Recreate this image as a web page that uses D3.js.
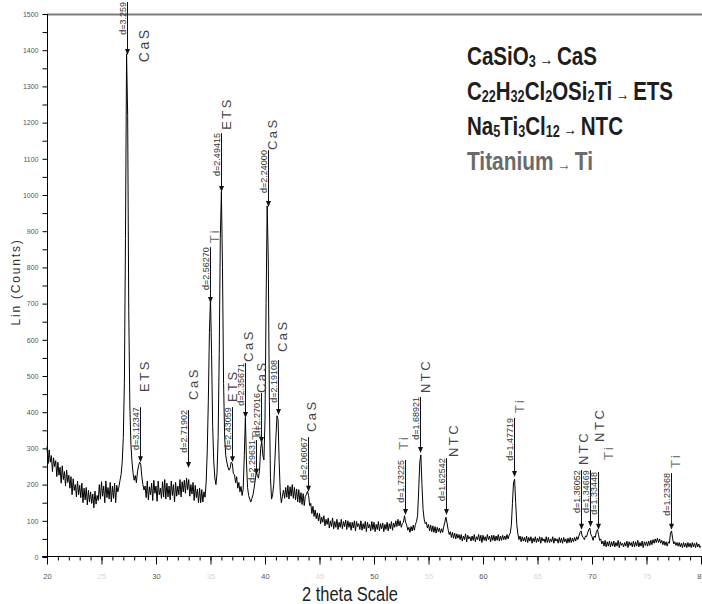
<!DOCTYPE html>
<html>
<head>
<meta charset="utf-8">
<script src="https://cdn.jsdelivr.net/npm/d3@7"></script>
<style>
body { margin: 0; background: #fff; }
svg { display: block; }
</style>
</head>
<body>
<svg id="chart"></svg>
<script>
const width = 702;
const height = 604;

// measured pattern, 2 theta from 20 to 80 in 0.1 steps
const startAngle = 20;
const stepAngle = 0.1;
const counts = [
  305, 258, 296, 262, 280, 236, 274, 250, 266, 222,
  262, 226, 248, 204, 252, 214, 236, 196, 240, 206,
  226, 190, 222, 172, 216, 184, 200, 166, 210, 172,
  198, 164, 204, 150, 190, 158, 192, 144, 184, 152,
  180, 148, 174, 136, 182, 146, 170, 156, 200, 160,
  208, 168, 196, 150, 210, 164, 192, 160, 206, 152,
  196, 162, 204, 150, 198, 180, 194, 212, 228, 262,
  330, 480, 880, 1390, 1220, 680, 420, 310, 262, 230,
  212, 225, 205, 235, 252, 262, 256, 222, 200, 185,
  196, 164, 210, 158, 194, 172, 204, 156, 212, 176,
  196, 154, 210, 172, 190, 162, 208, 166, 214, 160,
  204, 166, 196, 158, 210, 170, 200, 152, 206, 168,
  196, 172, 214, 166, 208, 180, 212, 176, 218, 186,
  214, 168, 200, 174, 206, 156, 198, 164, 188, 150,
  190, 150, 186, 152, 180, 165, 205, 290, 430, 620,
  715, 560, 360, 262, 218, 200, 232, 330, 560, 880,
  1010, 800, 480, 330, 280, 262, 248, 240, 246, 262,
  258, 230, 228, 205, 222, 190, 206, 180, 195, 170,
  188, 280, 385, 262, 192, 170, 160, 152, 162, 172,
  190, 212, 235, 225, 218, 240, 300, 320, 282, 268,
  380, 700, 970, 820, 430, 220, 160, 172, 200, 262,
  330, 390, 380, 262, 180, 150, 168, 185, 162, 192,
  165, 198, 160, 194, 168, 200, 162, 192, 158, 188,
  152, 186, 150, 178, 145, 175, 142, 168, 172, 182,
  170, 142, 148, 120, 140, 112, 130, 106, 122, 100,
  120, 92, 110, 96, 114, 86, 104, 90, 108, 80,
  100, 84, 108, 78, 98, 82, 104, 76, 96, 82,
  104, 78, 98, 84, 102, 76, 100, 82, 96, 74,
  96, 80, 100, 72, 98, 84, 92, 76, 100, 74,
  92, 78, 98, 70, 96, 80, 90, 72, 98, 76,
  96, 70, 90, 76, 98, 72, 92, 78, 94, 70,
  90, 76, 96, 72, 92, 78, 98, 74, 94, 82,
  100, 84, 104, 86, 100, 82, 92, 96, 114, 96,
  88, 74, 82, 68, 84, 72, 88, 74, 90, 98,
  115, 185, 262, 282, 200, 132, 105, 92, 96, 80,
  90, 72, 88, 70, 86, 68, 84, 66, 82, 70,
  80, 66, 78, 68, 84, 96, 110, 94, 76, 62,
  70, 54, 68, 52, 66, 50, 64, 52, 62, 48,
  62, 44, 58, 48, 64, 42, 60, 50, 56, 44,
  58, 46, 62, 42, 56, 48, 62, 44, 60, 40,
  60, 46, 56, 44, 62, 48, 58, 42, 60, 46,
  60, 44, 58, 46, 62, 44, 58, 46, 60, 48,
  58, 48, 62, 50, 60, 66, 88, 148, 205, 215,
  150, 90, 64, 48, 58, 42, 56, 44, 54, 42,
  58, 40, 54, 44, 56, 38, 52, 42, 56, 40,
  52, 42, 56, 38, 54, 44, 50, 40, 56, 40,
  54, 40, 50, 42, 56, 38, 52, 44, 50, 38,
  54, 40, 52, 38, 54, 42, 50, 38, 52, 40,
  54, 40, 52, 42, 54, 44, 56, 48, 58, 68,
  72, 58, 54, 48, 58, 56, 66, 76, 80, 62,
  56, 46, 58, 54, 70, 76, 62, 46, 50, 36,
  44, 30, 46, 28, 42, 30, 44, 28, 42, 30,
  44, 28, 40, 30, 46, 26, 42, 32, 38, 28,
  40, 30, 44, 26, 42, 32, 40, 28, 44, 28,
  42, 30, 46, 28, 40, 30, 44, 26, 42, 32,
  42, 30, 44, 32, 46, 34, 48, 38, 50, 40,
  52, 40, 50, 38, 46, 34, 44, 32, 42, 30,
  42, 38, 66, 72, 50, 36, 42, 32, 40, 30,
  40, 28, 38, 26, 40, 28, 38, 26, 40, 28,
  38, 26, 40, 28, 38, 26, 40, 28, 36, 26,
  30
];

// peak markers
const peakAngles = [27.35, 28.55, 32.91, 34.98, 35.98, 36.96, 38.16, 39.20, 39.67, 40.23,
                    41.16, 43.90, 52.80, 54.26, 56.58, 62.86, 68.97, 69.78, 70.52, 77.27];
const peakD = ['d=3.259', 'd=3.12347', 'd=2.71902', 'd=2.56270', 'd=2.49415', 'd=2.43059',
               'd=2.35671', 'd=2.29631', 'd=2.27016', 'd=2.24000', 'd=2.19108', 'd=2.06067',
               'd=1.73225', 'd=1.68921', 'd=1.62542', 'd=1.47719', 'd=1.36052', 'd=1.34669',
               'd=1.33448', 'd=1.23368'];
const peakPhase = ['CaS', 'ETS', 'CaS', 'Ti', 'ETS', 'ETS', 'CaS', 'Ti', 'CaS', 'CaS',
                   'CaS', 'CaS', 'Ti', 'NTC', 'NTC', 'Ti', 'NTC', 'NTC', 'Ti', 'Ti'];
const arrowTip = [1387, 262, 246, 702, 1008, 262, 384, 227, 315, 967,
                  392, 180, 116, 287, 116, 221, 75, 83, 75, 75];
const markTop = [1533, 414, 406, 856, 1171, 414, 536, 323, 453, 1124,
                 544, 331, 268, 442, 273, 384, 240, 240, 235, 232];
const labelAt = [1367, 456, 434, 867, 1180, 428, 539, 323, 453, 1124,
                 566, 345, 296, 453, 276, 398, 254, 318, 268, 246];

// legend rows: [text, kind] n = normal, s = subscript, a = arrow
const legendRows = [
  [['CaSiO', 'n'], ['3', 's'], [' \u2192 ', 'a'], ['CaS', 'n']],
  [['C', 'n'], ['22', 's'], ['H', 'n'], ['32', 's'], ['Cl', 'n'], ['2', 's'], ['OSi', 'n'], ['2', 's'], ['Ti', 'n'], [' \u2192 ', 'a'], ['ETS', 'n']],
  [['Na', 'n'], ['5', 's'], ['Ti', 'n'], ['3', 's'], ['Cl', 'n'], ['12', 's'], [' \u2192 ', 'a'], ['NTC', 'n']],
  [['Titanium', 'n'], [' \u2192 ', 'a'], ['Ti', 'n']]
];
const legendWidths = [130, 206, 156, 126];
const legendColors = ['#1e1e1e', '#1e1e1e', '#1e1e1e', '#6a6a6a'];

// layout: label offset from the marker line
const labelDx = [21, 8, 9, 8, 9, 4, 7, 4, 4, 8, 8, 7, 2, 9, 11, 9, 6, 13, 14, 8];

const svg = d3.select('#chart')
    .attr('width', width)
    .attr('height', height)
    .style('font-family', 'Liberation Sans, Arial, sans-serif');

const x = d3.scaleLinear().domain([20, 80]).range([47, 701]);
const y = d3.scaleLinear().domain([0, 1500]).range([557, 14]);

// top border
svg.append('line')
    .attr('x1', 47).attr('x2', width)
    .attr('y1', 14.5).attr('y2', 14.5)
    .attr('stroke', '#7d7d7d')
    .attr('stroke-width', 2);

// x axis
const xMinor = svg.append('g')
    .attr('transform', 'translate(0,556.5)')
    .call(d3.axisBottom(x).tickValues(d3.range(20, 81, 1)).tickSize(4).tickFormat(''));
const xMajor = svg.append('g')
    .attr('transform', 'translate(0,556.5)')
    .call(d3.axisBottom(x).tickValues(d3.range(20, 81, 5)).tickSize(8).tickPadding(9).tickFormat(d3.format('d')));
[xMinor, xMajor].forEach(g => g.select('.domain').remove());
xMajor.selectAll('text')
    .attr('font-size', 7.5)
    .attr('fill', d => d % 10 === 0 ? '#555' : '#d8d8d8');

// y axis
const yAxis = svg.append('g')
    .attr('transform', 'translate(47.5,0)')
    .call(d3.axisLeft(y).tickValues(d3.range(0, 1501, 50)).tickSize(5).tickPadding(4)
        .tickFormat(d => d % 100 === 0 ? d : ''));
yAxis.select('.domain').remove();
yAxis.selectAll('text')
    .attr('font-size', 7)
    .attr('fill', '#555');

svg.append('line')
    .attr('x1', 47.5).attr('x2', 47.5)
    .attr('y1', 14).attr('y2', 557)
    .attr('stroke', '#000');
svg.append('line')
    .attr('x1', 42).attr('x2', width)
    .attr('y1', 556.5).attr('y2', 556.5)
    .attr('stroke', '#000');

// axis titles
svg.append('text')
    .attr('x', 302).attr('y', 601)
    .attr('font-size', 20)
    .attr('fill', '#222')
    .attr('textLength', 96)
    .attr('lengthAdjust', 'spacingAndGlyphs')
    .text('2 theta  Scale');
svg.append('text')
    .attr('transform', 'translate(20,282) rotate(-90)')
    .attr('text-anchor', 'middle')
    .attr('font-size', 12)
    .attr('letter-spacing', 1.8)
    .attr('fill', '#333')
    .text('Lin (Counts)');

// pattern
const line = d3.line()
    .x((d, i) => x(startAngle + i * stepAngle))
    .y(d => y(d));
svg.append('path')
    .datum(counts)
    .attr('d', line)
    .attr('fill', 'none')
    .attr('stroke', '#000')
    .attr('stroke-width', 1);

// peak markers
const marks = svg.append('g');
peakAngles.forEach((a, i) => {
    const lx = Math.round(x(a)) + 0.5;
    const yt = y(arrowTip[i]);
    const g = marks.append('g');
    g.append('line')
        .attr('x1', lx).attr('x2', lx)
        .attr('y1', y(markTop[i])).attr('y2', yt - 5)
        .attr('stroke', '#111');
    g.append('path')
        .attr('d', `M${lx - 2.5},${yt - 6}L${lx + 2.5},${yt - 6}L${lx},${yt}Z`)
        .attr('fill', '#111');
    g.append('text')
        .attr('transform', `translate(${lx - 1.5},${y(markTop[i])}) rotate(-90)`)
        .attr('text-anchor', 'end')
        .attr('font-size', 9)
        .attr('fill', '#333')
        .text(peakD[i]);
    g.append('text')
        .attr('transform', `translate(${lx + labelDx[i]},${y(labelAt[i])}) rotate(-90)`)
        .attr('font-size', i === 0 ? 14 : 13)
        .attr('letter-spacing', 2.5)
        .attr('fill', peakPhase[i] === 'Ti' ? '#777' : '#444')
        .text(peakPhase[i]);
});

// legend
const legend = svg.append('g')
    .attr('font-weight', 'bold');
legendRows.forEach((row, r) => {
    const t = legend.append('text')
        .attr('x', 467)
        .attr('y', 65 + r * 35)
        .attr('font-size', 26)
        .attr('fill', legendColors[r])
        .attr('textLength', legendWidths[r])
        .attr('lengthAdjust', 'spacingAndGlyphs');
    let shift = 0;
    row.forEach(([txt, kind]) => {
        const want = kind === 's' ? 2 : 0;
        t.append('tspan')
            .attr('dy', want - shift)
            .attr('font-size', kind === 's' ? 16 : (kind === 'a' ? 17 : 26))
            .attr('font-weight', kind === 'a' ? 'normal' : 'bold')
            .text(txt);
        shift = want;
    });
});
</script>
</body>
</html>
